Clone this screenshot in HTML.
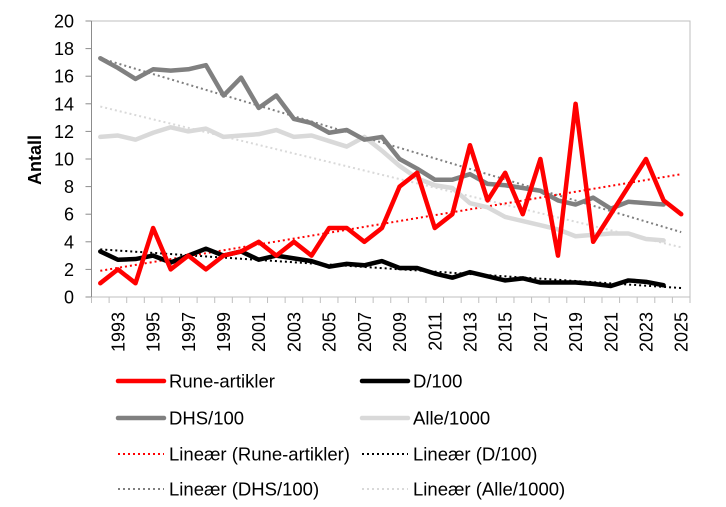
<!DOCTYPE html>
<html><head><meta charset="utf-8"><style>
html,body{margin:0;padding:0;background:#fff;}
svg{display:block;font-family:"Liberation Sans",Arial,sans-serif;}
</style></head><body>
<svg id="s" width="726" height="507" viewBox="0 0 726 507" xmlns="http://www.w3.org/2000/svg">
<rect x="0" y="0" width="726" height="507" fill="#fff"/>
<g id="g"></g>
</svg>
<script>
const NS="http://www.w3.org/2000/svg";
const g=document.getElementById('g');
function el(t,a,txt){const e=document.createElementNS(NS,t);for(const k in a)e.setAttribute(k,a[k]);if(txt!==undefined)e.textContent=txt;g.appendChild(e);return e;}
const L=91.5,R=690,T=21,B=297,W=(R-L)/34;
const X=i=>L+W*(i+0.5), Y=v=>B-(B-T)*v/20;
el('rect',{x:L,y:T,width:R-L,height:B-T,fill:'none',stroke:'#bfbfbf','stroke-width':1});
el('line',{x1:L,y1:T,x2:L,y2:B,stroke:'#8c8c8c','stroke-width':1});
for(let v=0;v<=20;v+=2){el('line',{x1:L-6,y1:Y(v),x2:L,y2:Y(v),stroke:'#8c8c8c'});
 el('text',{x:74,y:Y(v)+6.5,'text-anchor':'end','font-size':18,fill:'#000'},v);}
for(let i=0;i<=34;i++){const x=L+W*i;el('line',{x1:x,y1:B,x2:x,y2:B+6,stroke:'#bfbfbf'});}
for(let y=1993;y<=2025;y+=2){const x=X(y-1992);
 el('text',{x:0,y:0,transform:`translate(${x+6.5},312) rotate(-90)`,'text-anchor':'end','font-size':18,fill:'#000'},y);}
el('text',{x:0,y:0,transform:'translate(41,160) rotate(-90)','text-anchor':'middle','font-size':18,'font-weight':'bold',fill:'#000'},'Antall');
const red=[1,2,1,5,2,3,2,3,3.3,4,3,4,3,5,5,4,5,8,9,5,6,11,7,9,6,10,3,14,4,6,8,10,7,6];
const blk=[3.3,2.7,2.75,3.0,2.5,3.0,3.5,3.0,3.3,2.7,3.0,2.8,2.6,2.2,2.4,2.3,2.6,2.1,2.1,1.7,1.4,1.8,1.5,1.2,1.35,1.05,1.05,1.05,0.95,0.8,1.2,1.1,0.85];
const dhs=[17.3,16.6,15.8,16.5,16.4,16.5,16.8,14.6,15.9,13.7,14.6,12.9,12.6,11.9,12.1,11.4,11.6,10.0,9.3,8.5,8.5,8.9,8.2,8.1,7.9,7.7,7.0,6.7,7.2,6.4,6.9,6.8,6.7];
const alle=[11.6,11.7,11.4,11.9,12.3,12.0,12.2,11.6,11.7,11.8,12.1,11.6,11.7,11.3,10.9,11.6,10.6,9.5,8.6,8.1,7.9,6.8,6.5,5.8,5.5,5.2,4.9,4.4,4.5,4.6,4.6,4.2,4.1];
function tl(a,b,c){el('line',{x1:X(0),y1:Y(a),x2:X(33),y2:Y(b),stroke:c,'stroke-width':2,'stroke-dasharray':'2 3'});}
tl(13.8,3.6,'#d9d9d9');tl(17.3,4.7,'#7f7f7f');tl(3.45,0.65,'#000');tl(1.9,8.9,'#ff0000');
function pl(d,c){el('polyline',{points:d.map((v,i)=>X(i)+','+Y(v)).join(' '),fill:'none',stroke:c,'stroke-width':4.5,'stroke-linejoin':'round','stroke-linecap':'round'});}
pl(alle,'#d9d9d9');pl(dhs,'#808080');pl(blk,'#000');pl(red,'#ff0000');
const leg=[[118,381,'#ff0000',0,'Rune-artikler'],[362,381,'#000',0,'D/100'],[118,418,'#808080',0,'DHS/100'],[362,418,'#d9d9d9',0,'Alle/1000'],
[118,454,'#ff0000',1,'Lineær (Rune-artikler)'],[362,454,'#000',1,'Lineær (D/100)'],[118,489,'#7f7f7f',1,'Lineær (DHS/100)'],[362,489,'#d9d9d9',1,'Lineær (Alle/1000)']];
for(const [x,y,c,d,t] of leg){
 if(d) el('line',{x1:x,y1:y,x2:x+46,y2:y,stroke:c,'stroke-width':2,'stroke-dasharray':'2 3'});
 else el('line',{x1:x,y1:y,x2:x+46,y2:y,stroke:c,'stroke-width':4.5,'stroke-linecap':'round'});
 el('text',{x:x+51,y:y+6.5,'font-size':18.5,fill:'#000'},t);}
</script>
</body></html>
